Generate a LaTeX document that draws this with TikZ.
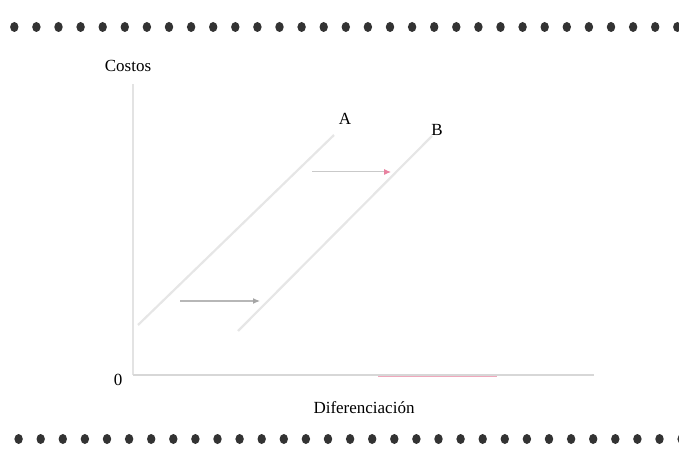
\documentclass[tikz,border=0pt]{standalone}
\usepackage{fontspec}
\setmainfont{Liberation Serif}
\usepackage{tikz}
\usetikzlibrary{arrows.meta,positioning,calc}
\definecolor{faintgray}{RGB}{230,230,230}
\definecolor{axisgray}{RGB}{215,215,215}
\definecolor{arrowgray}{RGB}{165,165,165}
\definecolor{arrowpink}{RGB}{232,130,160}

\begin{document}
\begin{tikzpicture}[x=1pt,y=-1pt,>=Latex,every node/.style={font=\fontsize{17}{20}\selectfont}]
\useasboundingbox (0,0) rectangle (679,454);
% dotted borders
\foreach \k in {0,...,30} {
  \fill[black!80] (14.3+22.1*\k,27) ellipse (4.2 and 5);
  \fill[black!80] (18.6+22.1*\k,439) ellipse (4.2 and 5);
}
% axes
\coordinate (O) at (133,375);
\coordinate (ytop) at (133,84);
\coordinate (xend) at (594,375);
\draw[axisgray!70,line width=1.3] (ytop) -- (O);
\draw[axisgray,line width=1.3] (O) -- (xend);
\draw[arrowpink!70,line width=0.9] (378,376) -- (497,376);
\node (zero) at (118,380) {0};
\node (costos) at (128,66) {Costos};
\node (difer) at (364,408) {Diferenciación};
% curves A and B
\coordinate (A0) at (138,325);
\coordinate (A1) at (334,135);
\coordinate (B0) at (238,331);
\coordinate (B1) at (432,136);
\draw[faintgray,line width=2.2] (A0) -- (A1);
\draw[faintgray,line width=2.2] (B0) -- (B1);
\node (Alab) at (345,119) {A};
\node (Blab) at (437,130) {B};
% shifts
\coordinate (p1) at (180,301);
\coordinate (q1) at (260,301);
\coordinate (p2) at (312,172);
\coordinate (q2) at (391,172);
\draw[arrowgray!80,line width=1.2,-{Latex[length=7pt,width=6pt,color=arrowgray]}] (p1) -- (q1);
\draw[arrowgray!60,line width=1.0,-{Latex[length=7pt,width=6pt,color=arrowpink]}] (p2) -- (q2);
\end{tikzpicture}
\end{document}
